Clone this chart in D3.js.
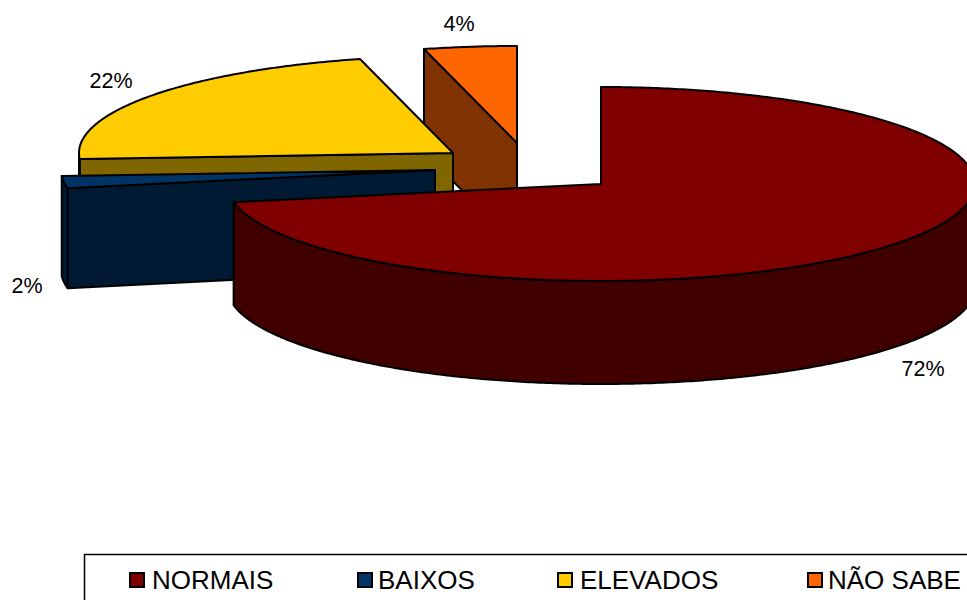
<!DOCTYPE html>
<html>
<head>
<meta charset="utf-8">
<script src="https://cdn.jsdelivr.net/npm/d3@7/dist/d3.min.js"></script>
<style>
html,body{margin:0;padding:0;background:#fff;overflow:hidden}
svg{display:block}
text{font-family:"Liberation Sans",Arial,sans-serif;fill:#000}
</style>
</head>
<body>
<svg id="c" width="967" height="600"></svg>
<script>
const categories = ["NORMAIS", "BAIXOS", "ELEVADOS", "NÃO SABE"];
const values = [72, 2, 22, 4];

const topColors = ["#800000", "#003366", "#ffcc00", "#ff6600"];
const sideColors = ["#400000", "#001a33", "#806600", "#803300"];

// layout only: exploded slice centres, wall heights, label anchors, legend positions
const centres = [[601, 184], [435, 170], [453, 153], [517, 143]];
const depths = [103, 100, 103, 103];
const labelPos = [[923, 376], [27, 292.5], [111, 88], [459, 31]];
const legendSwatchX = [130, 358, 558, 808];
const legendTextX = [152, 378, 580, 828];
const RX = 374, RY = 97;

const svg = d3.select("#c");
const arcs = d3.pie().sort(null).value(d => d)(values);
const total = d3.sum(values);
const line = d3.line();

function project(i) {
  const [cx, cy] = centres[i];
  const sx = d3.scaleLinear().domain([-1, 1]).range([cx - RX, cx + RX]);
  const sy = d3.scaleLinear().domain([-1, 1]).range([cy - RY, cy + RY]);
  return (a, dz = 0) => [sx(Math.sin(a)), sy(-Math.cos(a)) + dz];
}
function arcAngles(a0, a1) {
  const n = Math.max(2, Math.ceil((a1 - a0) / 0.01));
  return d3.range(n + 1).map(k => a0 + (a1 - a0) * k / n);
}

[3, 2, 1, 0].forEach(i => {
  const p = project(i);
  const a0 = arcs[i].startAngle, a1 = arcs[i].endAngle;
  const c = centres[i];
  const DEPTH = depths[i];
  const g = svg.append("g").attr("stroke", "#000").attr("stroke-width", 2).attr("stroke-linejoin", "round");
  const face = (pts, fill) => g.append("path").attr("d", line(pts) + "Z").attr("fill", fill);

  // cut faces that look toward the viewer
  [[a0, Math.sin(a0) < -1e-9], [a1, Math.sin(a1) > 1e-9]].forEach(([a, show]) => {
    if (!show) return;
    face([c, p(a), p(a, DEPTH), [c[0], c[1] + DEPTH]], sideColors[i]);
  });

  // outer rim, front half only
  const w0 = Math.max(a0, Math.PI / 2), w1 = Math.min(a1, Math.PI * 1.5);
  if (w1 > w0) {
    const as = arcAngles(w0, w1);
    face(as.map(a => p(a)).concat(as.slice().reverse().map(a => p(a, DEPTH))), sideColors[i]);
  }

  // top
  face([c].concat(arcAngles(a0, a1).map(a => p(a))), topColors[i]);
});

svg.append("g").selectAll("text").data(values).join("text")
  .attr("x", (d, i) => labelPos[i][0])
  .attr("y", (d, i) => labelPos[i][1])
  .attr("text-anchor", "middle")
  .attr("font-size", 21.5)
  .text(d => Math.round(d / total * 100) + "%");

svg.append("rect")
  .attr("x", 84.5).attr("y", 554.5).attr("width", 1000).attr("height", 100)
  .attr("fill", "#fff").attr("stroke", "#000").attr("stroke-width", 1.5);

const leg = svg.append("g").selectAll("g").data(categories).join("g");
leg.append("rect")
  .attr("x", (d, i) => legendSwatchX[i]).attr("y", 573)
  .attr("width", 14).attr("height", 14)
  .attr("fill", (d, i) => topColors[i])
  .attr("stroke", "#000").attr("stroke-width", 2);
leg.append("text")
  .attr("x", (d, i) => legendTextX[i]).attr("y", 588.5)
  .attr("font-size", 26)
  .text(d => d);
</script>
</body>
</html>
